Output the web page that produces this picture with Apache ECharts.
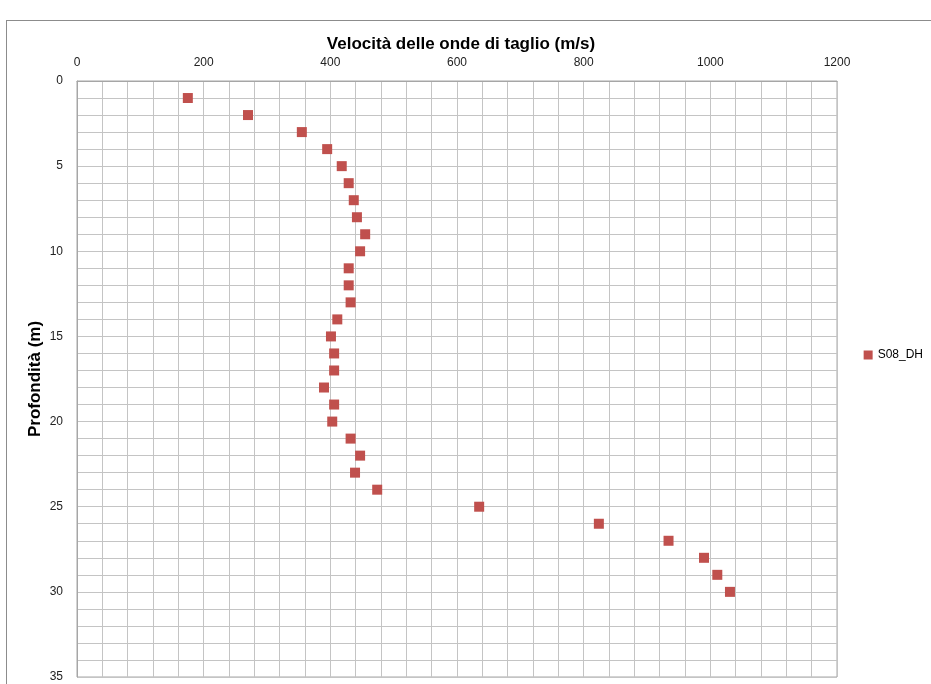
<!DOCTYPE html>
<html>
<head>
<meta charset="utf-8">
<script src="https://cdn.jsdelivr.net/npm/echarts@6/dist/echarts.min.js"></script>
<style>
  html, body { margin: 0; padding: 0; background: #fff; }
  #frame { position: absolute; left: 6px; top: 20px; width: 940px; height: 680px; border: 1px solid #8c8c8c; box-sizing: border-box; }
  #chart { position: absolute; left: 0; top: 0; width: 931px; height: 684px; }
</style>
</head>
<body>
<div id="frame"></div>
<div id="chart"></div>
<script>
// Shear-wave velocity profile, borehole S08 (down-hole test)
const depths = [1, 2, 3, 4, 5, 6, 7, 8, 9, 10, 11, 12, 13, 14, 15, 16, 17, 18, 19, 20,
                21, 22, 23, 24, 25, 26, 27, 28, 29, 30];
const velocities = [175, 270, 355, 395, 418, 429, 437, 442, 455, 447, 429, 429, 432, 411, 401,
                    406, 406, 390, 406, 403, 432, 447, 439, 474, 635, 824, 934, 990, 1011, 1031];
const seriesName = 'S08_DH';
const titleText = 'Velocità delle onde di taglio (m/s)';
const depthLabel = 'Profondità (m)';

const font = '"Liberation Sans Narrow", "Liberation Sans", Arial, sans-serif';
const gridColor = '#c4c4c4';

const chart = echarts.init(document.getElementById('chart'), null, { renderer: 'canvas' });
chart.setOption({
  animation: false,
  backgroundColor: 'transparent',
  title: {
    text: titleText,
    left: 456, top: 31, textAlign: 'center',
    textStyle: { fontFamily: font, fontSize: 17, fontWeight: 'bold', color: '#000' }
  },
  legend: {
    data: [seriesName],
    right: 3, top: 344,
    itemWidth: 9, itemHeight: 9, itemGap: 4,
    textStyle: { fontFamily: font, fontSize: 12, color: '#000' }
  },
  grid: {
    left: 77, top: 81, width: 760, height: 596,
    show: true, borderColor: '#a6a6a6', borderWidth: 1
  },
  xAxis: {
    type: 'value', position: 'top',
    min: 0, max: 1200, interval: 200,
    axisLine: { show: true, lineStyle: { color: '#a6a6a6' } },
    axisTick: { show: false },
    axisLabel: { fontFamily: font, fontSize: 12, color: '#222', margin: 12, formatter: v => String(v) },
    splitLine: { show: true, lineStyle: { color: gridColor, width: 1 } },
    minorTick: { show: false, splitNumber: 5 },
    minorSplitLine: { show: true, lineStyle: { color: gridColor, width: 1 } }
  },
  yAxis: {
    type: 'value', inverse: true,
    min: 0, max: 35, interval: 5,
    name: depthLabel, nameLocation: 'middle', nameGap: 33, nameRotate: 90,
    nameMoveOverlap: false,
    nameTextStyle: { fontFamily: font, fontSize: 17, fontWeight: 'bold', color: '#000' },
    axisLine: { show: true, lineStyle: { color: '#a6a6a6' } },
    axisTick: { show: false },
    axisLabel: { fontFamily: font, fontSize: 12, color: '#222', margin: 14, formatter: v => String(v) },
    splitLine: { show: true, lineStyle: { color: gridColor, width: 1 } },
    minorTick: { show: false, splitNumber: 5 },
    minorSplitLine: { show: true, lineStyle: { color: gridColor, width: 1 } }
  },
  series: [{
    name: seriesName,
    type: 'scatter',
    symbol: 'rect',
    symbolSize: 10,
    itemStyle: { color: '#c0504d', opacity: 1 },
    data: depths.map((d, i) => [velocities[i], d])
  }]
});
</script>
</body>
</html>
